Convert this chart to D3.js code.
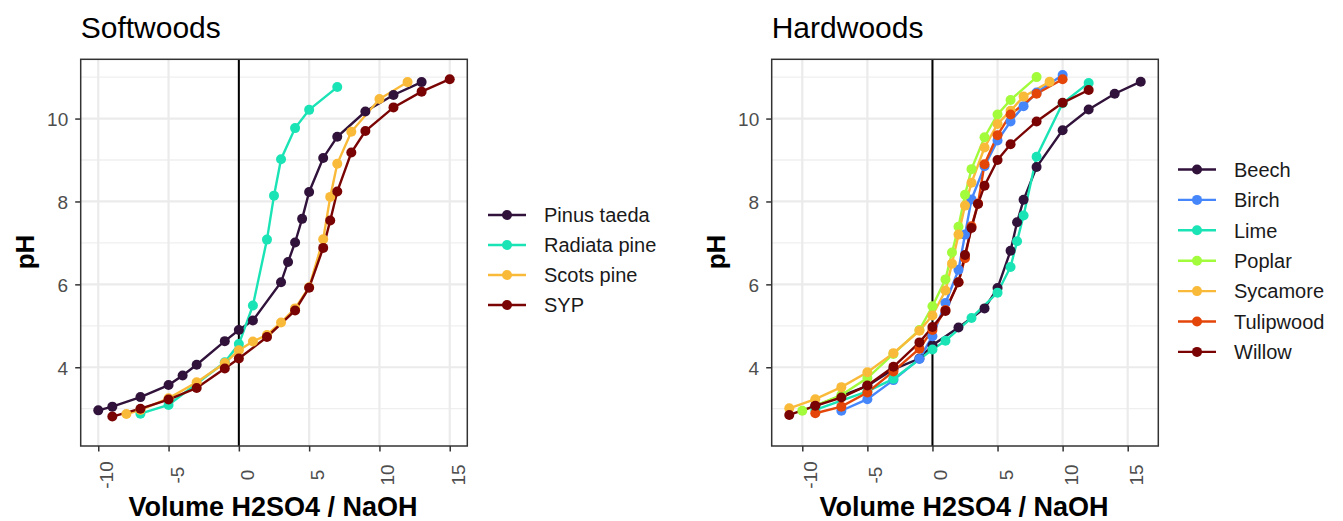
<!DOCTYPE html>
<html>
<head>
<meta charset="utf-8">
<script src="https://cdn.jsdelivr.net/npm/d3@7"></script>
<style>
  body { margin: 0; background: #fff; }
  svg { font-family: "Liberation Sans", Arial, sans-serif; }
  .axis path { display: none; }
  .axis line { stroke: #333333; stroke-width: 1.5px; }
  .axis text { fill: #4D4D4D; font-size: 19px; }
</style>
</head>
<body>
<svg id="chart" width="1343" height="521"></svg>
<script>
// softwoods: [volume, pH]
var pinusTaeda = [[-10,2.96],[-9,3.05],[-7,3.28],[-5,3.57],[-4,3.8],[-3,4.06],[-1,4.63],[0,4.9],[1,5.13],[3,6.05],[3.5,6.54],[4,7.01],[4.5,7.58],[5,8.23],[6,9.05],[7,9.56],[9,10.17],[11,10.57],[13,10.88]];
var radiataPine = [[-7,2.88],[-5,3.09],[-1,4.12],[0,4.56],[1,5.49],[2,7.08],[2.5,8.14],[3,9.02],[4,9.77],[5,10.21],[7,10.76]];
var scotsPine = [[-8,2.87],[-7,2.97],[-5,3.25],[-3,3.64],[-1,4.1],[0,4.41],[1,4.62],[2,4.78],[3,5.08],[4,5.42],[5,5.93],[6,7.09],[6.5,8.11],[7,8.91],[8,9.68],[10,10.47],[12,10.88]];
var syp = [[-9,2.81],[-7,3.0],[-5,3.22],[-3,3.5],[-1,3.97],[0,4.21],[2,4.73],[4,5.37],[5,5.92],[6,6.88],[6.5,7.54],[7,8.24],[8,9.18],[9,9.7],[11,10.27],[13,10.65],[15,10.95]];

// hardwoods
var beech = [[-9,3.07],[-5,3.55],[-3,3.95],[-1,4.21],[0,4.53],[2,4.96],[4,5.42],[5,5.91],[6,6.81],[6.5,7.5],[7,8.04],[8,8.83],[10,9.72],[12,10.22],[14,10.6],[16,10.89]];
var birch = [[-7,2.95],[-5,3.23],[-3,3.69],[-1,4.2],[0,4.75],[1,5.55],[2,6.35],[2.5,7.2],[3,8.05],[4,8.85],[5,9.47],[6,9.93],[7,10.3],[8,10.63],[10,11.05]];
var lime = [[-9,2.97],[-5,3.42],[-3,3.72],[0,4.43],[1,4.64],[3,5.19],[5,5.8],[6,6.42],[6.5,7.04],[7,7.66],[8,9.08],[10,10.37],[12,10.86]];
var poplar = [[-10,2.95],[-7,3.33],[-5,3.74],[-3,4.32],[-1,4.9],[0,5.47],[1,6.12],[1.5,6.77],[2,7.39],[2.5,8.16],[3,8.78],[4,9.55],[5,10.1],[6,10.45],[8,11.0]];
var sycamore = [[-11,3.01],[-9,3.23],[-7,3.52],[-5,3.88],[-3,4.34],[-1,4.88],[0,5.25],[1,5.85],[1.5,6.5],[2,7.2],[2.5,7.9],[3,8.45],[4,9.3],[5,9.87],[6,10.19],[7,10.53],[9,10.89]];
var tulipwood = [[-9,2.89],[-7,3.05],[-5,3.39],[-3,3.9],[-1,4.45],[0,4.9],[1,5.38],[2,6.05],[2.5,6.63],[3,7.4],[3.5,7.95],[4,8.9],[5,9.6],[6,10.1],[8,10.6],[10,10.95]];
var willow = [[-11,2.85],[-9,3.07],[-7,3.27],[-5,3.56],[-3,4.01],[-1,4.6],[0,4.97],[1,5.36],[2,6.05],[2.5,6.71],[3,7.36],[3.5,7.94],[4,8.38],[5,9.0],[6,9.38],[8,9.93],[10,10.38],[12,10.69]];

var softNames = ["Pinus taeda", "Radiata pine", "Scots pine", "SYP"];
var softSeries = [pinusTaeda, radiataPine, scotsPine, syp];
var softColors = ["#30123B", "#1AE4B6", "#FABA39", "#7A0403"];

var hardNames = ["Beech", "Birch", "Lime", "Poplar", "Sycamore", "Tulipwood", "Willow"];
var hardSeries = [beech, birch, lime, poplar, sycamore, tulipwood, willow];
var hardColors = ["#30123B", "#4686FB", "#1AE4B6", "#A2FC3C", "#FABA39", "#E4460A", "#7A0403"];

var xTicks = [-10, -5, 0, 5, 10, 15];
var yTicks = [4, 6, 8, 10];
var yMinor = [3, 5, 7, 9, 11];

var svg = d3.select("#chart");

function drawPanel(opt) {
  var x = d3.scaleLinear().domain(opt.xDomain).range([opt.left, opt.right]);
  var y = d3.scaleLinear().domain([2.1, 11.43]).range([446, 59.3]);
  var g = svg.append("g");

  // grid
  g.selectAll(".minor").data(yMinor).enter().append("line")
    .attr("x1", opt.left).attr("x2", opt.right)
    .attr("y1", function(d) { return y(d); }).attr("y2", function(d) { return y(d); })
    .attr("stroke", "#EFEFEF").attr("stroke-width", 1.3);
  g.selectAll(".hmajor").data(yTicks).enter().append("line")
    .attr("x1", opt.left).attr("x2", opt.right)
    .attr("y1", function(d) { return y(d); }).attr("y2", function(d) { return y(d); })
    .attr("stroke", "#EBEBEB").attr("stroke-width", 2.2);
  g.selectAll(".vmajor").data(xTicks).enter().append("line")
    .attr("y1", y.range()[0]).attr("y2", y.range()[1])
    .attr("x1", function(d) { return x(d); }).attr("x2", function(d) { return x(d); })
    .attr("stroke", "#EBEBEB").attr("stroke-width", 2.2);

  // zero line
  g.append("line")
    .attr("x1", x(0)).attr("x2", x(0))
    .attr("y1", y.range()[0]).attr("y2", y.range()[1])
    .attr("stroke", "#000").attr("stroke-width", 2);

  var line = d3.line()
    .x(function(d) { return x(d[0]); })
    .y(function(d) { return y(d[1]); });

  opt.series.forEach(function(s, i) {
    g.append("path")
      .attr("d", line(s))
      .attr("fill", "none")
      .attr("stroke", opt.colors[i])
      .attr("stroke-width", 2.4);
  });
  opt.series.forEach(function(s, i) {
    g.selectAll(null).data(s).enter().append("circle")
      .attr("cx", function(d) { return x(d[0]); })
      .attr("cy", function(d) { return y(d[1]); })
      .attr("r", 5)
      .attr("fill", opt.colors[i]);
  });

  // border
  g.append("rect")
    .attr("x", opt.left).attr("y", 59.3)
    .attr("width", opt.right - opt.left).attr("height", 446 - 59.3)
    .attr("fill", "none").attr("stroke", "#333333").attr("stroke-width", 1.5);

  // axes
  g.append("g")
    .attr("class", "axis")
    .attr("transform", "translate(" + opt.left + ",0)")
    .call(d3.axisLeft(y).tickValues(yTicks).tickSize(5.5).tickPadding(7))
    .selectAll("text").attr("dy", "0.36em");

  var xa = g.append("g")
    .attr("class", "axis")
    .attr("transform", "translate(0,446)")
    .call(d3.axisBottom(x).tickValues(xTicks).tickSize(5.5).tickFormat(d3.format("d")));
  xa.selectAll("text")
    .attr("y", 0).attr("dy", 0)
    .attr("text-anchor", "middle")
    .attr("transform", "translate(14.5,29) rotate(-90)")
    .text(function(d) { return d < 0 ? "-" + Math.abs(d) : d; });

  // titles
  svg.append("text")
    .attr("x", opt.left).attr("y", 38)
    .attr("font-size", 30).attr("fill", "#000")
    .text(opt.title);

  svg.append("text")
    .attr("x", (opt.left + opt.right) / 2 - 1).attr("y", 516)
    .attr("text-anchor", "middle")
    .attr("font-size", 27).attr("font-weight", "bold")
    .text("Volume H2SO4 / NaOH");

  svg.append("text")
    .attr("transform", "translate(" + (opt.left - 47) + ",252) rotate(-90)")
    .attr("text-anchor", "middle")
    .attr("font-size", 26).attr("font-weight", "bold")
    .text("pH");

  // legend
  var lg = svg.append("g")
    .attr("transform", "translate(" + opt.legendX + "," + opt.legendY + ")");
  opt.names.forEach(function(n, i) {
    var row = lg.append("g").attr("transform", "translate(0," + (i * opt.legendStep) + ")");
    row.append("line")
      .attr("x1", 0).attr("x2", 38).attr("y1", 0).attr("y2", 0)
      .attr("stroke", opt.colors[i]).attr("stroke-width", 2.4);
    row.append("circle").attr("cx", 19).attr("cy", 0).attr("r", 5).attr("fill", opt.colors[i]);
    row.append("text")
      .attr("x", 56).attr("y", 0).attr("dy", "0.36em")
      .attr("font-size", 20).attr("fill", "#1A1A1A")
      .text(n);
  });
}

drawPanel({
  title: "Softwoods", left: 80.7, right: 467.3, xDomain: [-11.25, 16.25],
  series: softSeries, colors: softColors, names: softNames,
  legendX: 488, legendY: 215, legendStep: 30
});

drawPanel({
  title: "Hardwoods", left: 771.7, right: 1158.3, xDomain: [-12.35, 17.35],
  series: hardSeries, colors: hardColors, names: hardNames,
  legendX: 1178, legendY: 169.5, legendStep: 30.4
});
</script>
</body>
</html>
